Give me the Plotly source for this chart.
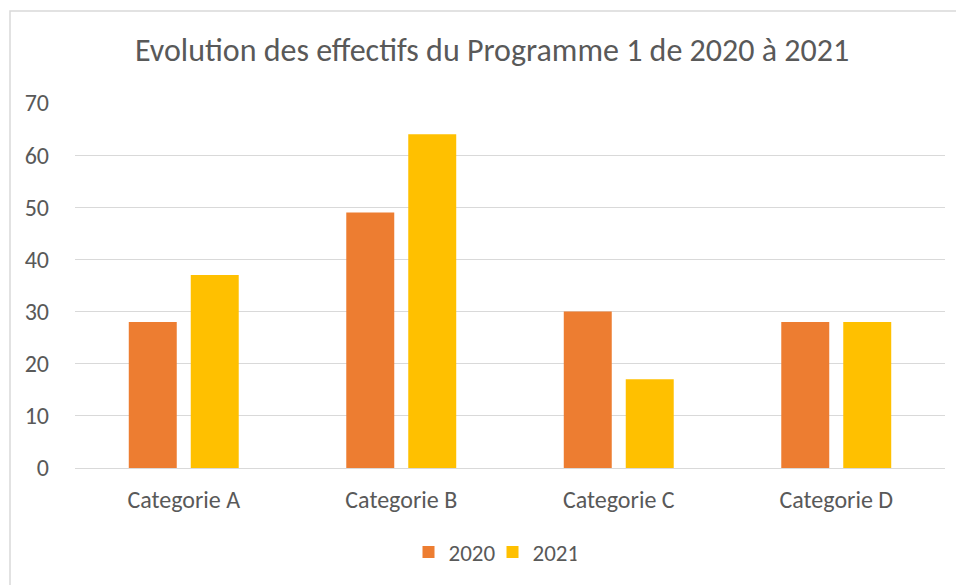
import plotly.graph_objects as go

categories = ["Categorie A", "Categorie B", "Categorie C", "Categorie D"]
values_2020 = [28, 49, 30, 28]
values_2021 = [37, 64, 17, 28]
series_names = ["2020", "2021"]
colors = ["#ED7D31", "#FFC000"]

OFF = 8  # page body margin
W, H = 964 - OFF, 585 - OFF
# plot area in page pixels: x 75..945, y 103..468
L, R, T, B = 75 - OFF, 964 - 945, 103 - OFF, 585 - 468
pw, ph = W - L - R, H - T - B

def px2paper_x(x):
    return (x - OFF - L) / pw

def px2paper_y(y):
    return (H - B - (y - OFF)) / ph

fig = go.Figure()
for name, vals, col in zip(series_names, [values_2020, values_2021], colors):
    fig.add_trace(go.Bar(x=categories, y=vals, name=name, marker=dict(color=col, line=dict(width=0))))

font_family = "Carlito, Calibri, Lato, sans-serif"
fig.update_layout(
    width=W, height=H,
    margin=dict(l=L, r=R, t=T, b=B),
    paper_bgcolor="white", plot_bgcolor="white",
    barmode="group", bargap=0.43, bargroupgap=0.226,
    font=dict(family=font_family, color="#595959", size=23),
    title=dict(text="Evolution des effectifs du Programme 1 de 2020 à 2021",
               x=(492 - OFF) / W, xanchor="center", y=1 - (50 - OFF) / H, yanchor="middle",
               font=dict(size=32, color="#595959", family=font_family)),
    xaxis=dict(showgrid=False, showline=True, linecolor="#D9D9D9", linewidth=1,
               ticks="", tickfont=dict(size=24, color="#595959"), ticklabelstandoff=10),
    yaxis=dict(range=[0, 70], dtick=10, showgrid=True, gridcolor="#D9D9D9", gridwidth=1,
               zeroline=False, showline=False, ticks="",
               tickfont=dict(size=24, color="#595959"), ticklabelstandoff=25),
    legend=dict(orientation="h", x=0.5 - 17.5 / pw, xanchor="center", y=px2paper_y(552), yanchor="middle",
                font=dict(size=23, color="#595959"), itemwidth=30, traceorder="normal",
                entrywidth=39, entrywidthmode="pixels"),
    showlegend=True,
    shapes=[dict(type="rect", xref="paper", yref="paper",
                 x0=px2paper_x(10), x1=px2paper_x(1000),
                 y0=px2paper_y(620), y1=px2paper_y(11),
                 line=dict(color="#D9D9D9", width=1.5), fillcolor="rgba(0,0,0,0)", layer="below")],
)

fig.write_html("out.html")
